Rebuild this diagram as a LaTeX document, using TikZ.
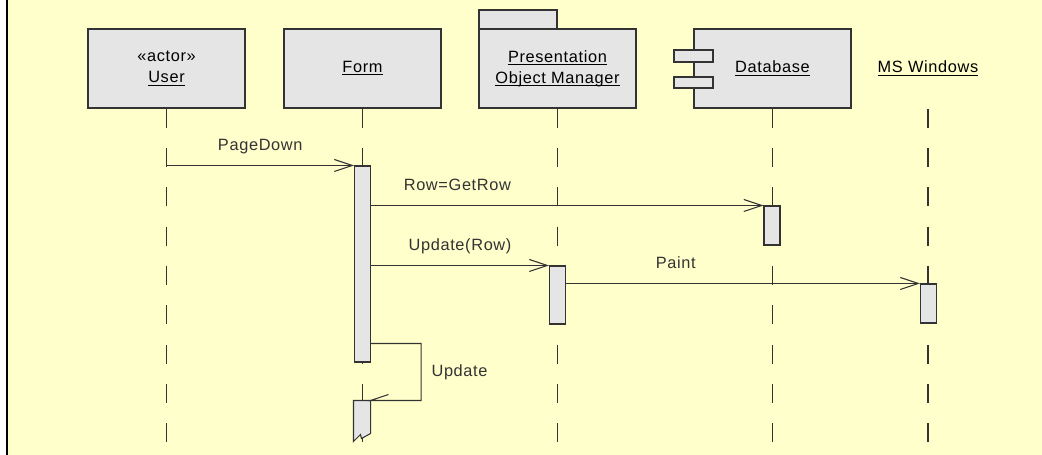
\documentclass[tikz,border=0pt]{standalone}
\usepackage{amsmath}
\usepackage{fontspec}
\setmainfont{Liberation Sans}[LetterSpace=4]
\usetikzlibrary{arrows.meta,positioning,calc}
\definecolor{paper}{HTML}{FFFFCC}
\definecolor{boxgray}{HTML}{E5E5E5}
\definecolor{ink}{HTML}{333333}
\newcommand{\objname}[1]{\underline{\smash[b]{#1}}}

\begin{document}
\begin{tikzpicture}[x=0.02cm,y=-0.02cm,
    font=\fontsize{9.3}{12}\selectfont,
    obj/.style={draw=ink,fill=boxgray,line width=0.9pt,minimum width=3.14cm,
        minimum height=1.58cm,align=center,inner sep=0pt},
    act/.style={draw=ink,fill=boxgray,line width=0.6pt,minimum width=0.32cm,inner sep=0pt},
    life/.style={ink,line width=0.6pt,dash pattern=on 0.38cm off 0.406cm},
    msg/.style={ink,line width=0.6pt,-{Straight Barb[length=0.36cm,width=0.24cm]}},
    lbl/.style={anchor=base,yshift=0.29cm,inner sep=0pt}]
    % page
    \useasboundingbox (0,0) rectangle (1042,455);
    \fill[white] (0,0) rectangle (1042,455);
    \fill[paper] (7,0) rectangle (1042,455);
    \draw[line width=1.2pt] (7,0) -- (7,455);
    \coordinate (bottom) at (0,455);

    % objects
    \node[obj] (user) at (166.5,68.5) {\guillemotleft actor\guillemotright\\\objname{User}};
    \node[obj] (form) at (362.5,68.5) {\objname{Form}};
    \draw[draw=ink,fill=boxgray,line width=0.9pt] (479,29) rectangle (557,10);
    \node[obj] (pom) at (557.5,68.5) {\objname{Presentation}\\\objname{Object Manager}};
    \node[obj] (db) at (772.5,68.5) {\objname{Database}};
    \draw[draw=ink,fill=boxgray,line width=0.6pt] (674,50) rectangle (713,62);
    \draw[draw=ink,fill=boxgray,line width=0.6pt] (674,77) rectangle (713,88);
    \node[obj,draw=none,fill=none] (win) at (928,68.5) {\objname{MS Windows}};

    % lifelines
    \foreach \o in {user,form,pom,db,win}
        \draw[life] (\o.south) -- (\o.south |- bottom);

    % activations
    \node[act,minimum height=3.92cm] (actForm) at (362.5,264) {};
    \node[act,minimum height=0.78cm] (actDB) at (772,225.5) {};
    \node[act,minimum height=1.16cm] (actPOM) at (557.5,295) {};
    \node[act,minimum height=0.78cm] (actWin) at (928.5,303.5) {};
    \node[act,draw=none,fill=none,minimum height=0.8cm] (actForm2) at (362,421) {};
    \draw[draw=ink,fill=boxgray,line width=0.6pt] (actForm2.north west) -- (actForm2.north east)
        -- ($(actForm2.south east)+(0,-8)$) -- ($(actForm2.south west)+(8,-3)$)
        -- ($(actForm2.south west)+(7,-7)$) -- (actForm2.south west) -- cycle;

    % messages
    \draw[msg] (user.south |- actForm.north) -- (actForm.north west)
        node[lbl,midway] {PageDown};
    \draw[msg] (actForm.east |- actDB.north) -- (actDB.north west)
        node[lbl,pos=0.22] {Row=GetRow};
    \draw[msg] (actForm.east |- actPOM.north) -- (actPOM.north west)
        node[lbl,midway] {Update(Row)};
    \draw[msg] (actPOM.east |- actWin.north) -- (actWin.north west)
        node[lbl,pos=0.31] {Paint};
    % self call, half open head
    \draw[ink,line width=0.6pt] ([yshift=0.38cm]actForm.south east) -- ++(50,0)
        |- (actForm2.north east) node[pos=0.25,right=0.2cm,inner sep=0pt] {Update}
        -- ++(18,-6);
\end{tikzpicture}
\end{document}
